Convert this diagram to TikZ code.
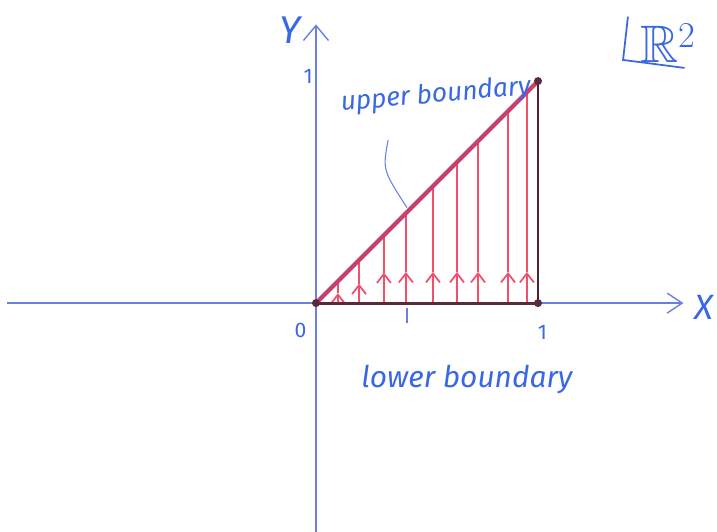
\documentclass[tikz,border=0pt]{standalone}
\usepackage{amsmath,amssymb}
\usepackage{fontspec}
\setmainfont{Fira Sans}
\usepackage{xcolor}
\usetikzlibrary{arrows.meta,calc,positioning}
\definecolor{axisblue}{HTML}{6A80E0}
\definecolor{penblue}{HTML}{3A68E4}
\definecolor{fieldred}{HTML}{F0506A}
\definecolor{edgered}{HTML}{C8406E}
\definecolor{edgedark}{HTML}{5A2A3A}

\begin{document}
\begin{tikzpicture}[
    x=4.44cm,y=4.44cm,
    axis/.style={draw=axisblue,line width=0.8pt},
    hand/.style={text=penblue,font=\itshape},
    field/.style={draw=fieldred,line width=1pt},
    vertex/.style={circle,fill=edgedark,inner sep=0pt,minimum size=1.6mm},
  ]
    \useasboundingbox (-1.423,-1.027) rectangle (1.806,1.365);

    % axes
    \coordinate (xl) at (-1.39,0);
    \coordinate (xr) at (1.655,0);
    \coordinate (yb) at (0,-1.03);
    \coordinate (yt) at (0,1.255);
    \draw[axis,-{Straight Barb[length=3mm,width=4mm]}] (xl) -- (xr);
    \draw[axis,-{Straight Barb[length=3mm,width=5mm]}] (yb) -- (yt);
    \node[hand,font=\fontsize{22}{24}\selectfont\itshape] (ylab) at (-0.115,1.23) {Y};
    \node[hand,font=\fontsize{20}{22}\selectfont\itshape] (xlab) at (1.745,-0.02) {X};
    \node[hand,font=\fontsize{12}{14}\selectfont] (zero) at (-0.07,-0.125) {0};
    \node[hand,font=\fontsize{12}{14}\selectfont] (onex) at (1.02,-0.13) {1};
    \node[hand,font=\fontsize{12}{14}\selectfont] (oney) at (-0.035,1.02) {1};

    % region
    \coordinate (O) at (0,0);
    \coordinate (A) at (1,0);
    \coordinate (B) at (1,1);
    \foreach \x in {0.099,0.194,0.306,0.405,0.527,0.635,0.730,0.865,0.950} {
      \pgfmathsetmacro{\h}{min(0.45*\x,0.14)}
      \draw[field,-{Straight Barb[length=1.8mm,width=2.8mm]}] (\x,0) -- (\x,\h);
      \draw[field] (\x,\h) -- (\x,\x);
    }
    \draw[draw=edgedark,line width=1.8pt] (O) -- (A);
    \draw[draw=edgedark!80!black,line width=1.4pt] (A) -- (B);
    \draw[draw=edgered,line width=2.4pt,line cap=round] (O) -- (B);
    \node[vertex] (vO) at (O) {};
    \node[vertex] (vA) at (A) {};
    \node[vertex] (vB) at (B) {};

    % labels
    \node[hand,font=\fontsize{15}{18}\selectfont\itshape,rotate=5] (upper) at (0.54,0.935) {upper boundary};
    \draw[axisblue,line width=0.6pt] (0.325,0.735) .. controls (0.3,0.6) .. (0.41,0.43);
    \node[hand,font=\fontsize{17}{20}\selectfont\itshape] (lower) at (0.68,-0.345) {lower boundary};
    \draw[axisblue,line width=0.6pt] (0.41,-0.02) -- (0.41,-0.09);

    % space
    \node[hand,font=\fontsize{30}{32}\selectfont] (space) at (1.585,1.17) {$\mathbb{R}^2$};
    \draw[penblue,line width=1pt] (1.405,1.29) -- (1.383,1.095) -- (1.66,1.059);
  \end{tikzpicture}
\end{document}
